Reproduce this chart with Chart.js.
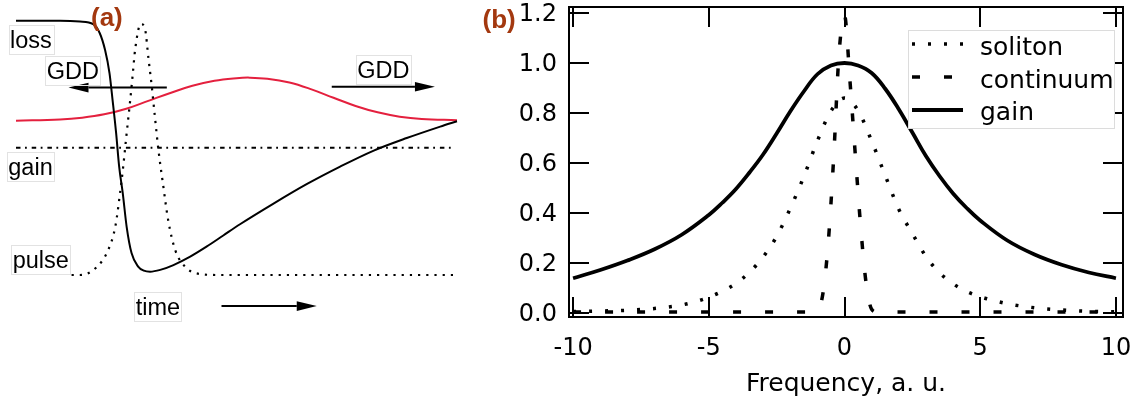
<!DOCTYPE html>
<html>
<head>
<meta charset="utf-8">
<script src="https://cdn.jsdelivr.net/npm/chart.js@4/dist/chart.umd.min.js"></script>
<style>
html,body{margin:0;padding:0;background:#fff;}
#wrap{position:relative;width:1139px;height:401px;overflow:hidden;background:#fff;}
#ca{position:absolute;left:0;top:0;}
#cb{position:absolute;left:470px;top:0;}
</style>
</head>
<body>
<div id="wrap">
<canvas id="ca" width="470" height="401"></canvas>
<canvas id="cb" width="669" height="401"></canvas>
</div>
<script>
// ---------------- Panel (a): schematic, time 0..10, level 0..1 ----------------
const lossTime  = [0, 1.0, 1.45, 1.75, 1.9, 2.02, 2.12, 2.19, 2.27, 2.34, 2.42, 2.51, 2.62, 2.77, 2.9, 3.04, 3.27, 3.57, 3.95, 4.32, 4.70, 5.08, 5.83, 6.59, 7.35, 8.10, 8.86, 9.62, 10];
const lossLevel = [0.997, 0.997, 0.994, 0.984, 0.948, 0.882, 0.792, 0.686, 0.557, 0.424, 0.322, 0.188, 0.086, 0.033, 0.017, 0.013, 0.02, 0.039, 0.072, 0.111, 0.155, 0.199, 0.279, 0.356, 0.425, 0.487, 0.537, 0.582, 0.603];

const pulseTime  = [1.26, 1.45, 1.83, 2.09, 2.25, 2.36, 2.43, 2.51, 2.59, 2.65, 2.70, 2.83, 2.93, 3.0, 3.08, 3.15, 3.23, 3.33, 3.45, 3.61, 3.87, 4.17, 4.63, 9.91];
const pulseLevel = [0, 0, 0.031, 0.098, 0.188, 0.322, 0.424, 0.557, 0.686, 0.792, 0.882, 0.985, 0.961, 0.855, 0.737, 0.62, 0.49, 0.361, 0.216, 0.098, 0.027, 0.004, 0, 0];

const gddTime  = [0, 1, 1.5, 2, 2.5, 3, 3.5, 4, 4.5, 5, 5.3, 5.7, 6.2, 6.7, 7.2, 7.7, 8.2, 8.7, 9.2, 10];
const gddLevel = [0.605, 0.61, 0.617, 0.63, 0.652, 0.683, 0.714, 0.742, 0.762, 0.772, 0.774, 0.77, 0.755, 0.728, 0.695, 0.663, 0.638, 0.621, 0.612, 0.607];

const gainATime  = [0, 9.92];
const gainALevel = [0.499, 0.499];

// arrows: [from time, to time (head), level]
const arrowGddLeft  = [3.42, 1.19, 0.735];
const arrowGddRight = [7.16, 9.50, 0.738];
const arrowTime     = [4.66, 6.82, -0.122];

// text labels of panel (a): [text, time, level]
const labelsA = [
  ['loss', -0.136, 0.889],
  ['GDD', 0.696, 0.767],
  ['GDD', 7.739, 0.771],
  ['gain', -0.175, 0.392],
  ['pulse', -0.075, 0.026],
  ['time', 2.714, -0.157]
];

// ---------------- Panel (b): spectra ----------------
const gainFreq  = [-10, -9, -8, -7, -6, -5, -4.5, -4, -3.5, -3, -2.5, -2, -1.5, -1, -0.5, 0, 0.5, 1, 1.5, 2, 2.5, 3, 3.5, 4, 4.5, 5, 6, 7, 8, 9, 10];
const gainValue = [0.139, 0.172, 0.21, 0.255, 0.313, 0.392, 0.441, 0.496, 0.562, 0.634, 0.718, 0.806, 0.886, 0.955, 0.99, 1.0, 0.99, 0.96, 0.897, 0.815, 0.722, 0.628, 0.548, 0.478, 0.42, 0.37, 0.29, 0.234, 0.193, 0.162, 0.139];

const solitonFreq  = [-10, -9, -8, -7, -6, -5.5, -5, -4.5, -4, -3.5, -3, -2.5, -2, -1.5, -1, -0.5, 0, 0.5, 1, 1.5, 2, 2.5, 3, 3.5, 4, 4.5, 5, 5.5, 6, 7, 8, 9, 10];
const solitonValue = [0.006, 0.008, 0.011, 0.018, 0.032, 0.045, 0.063, 0.087, 0.118, 0.163, 0.224, 0.306, 0.418, 0.545, 0.688, 0.808, 0.86, 0.81, 0.688, 0.55, 0.415, 0.318, 0.226, 0.161, 0.117, 0.086, 0.065, 0.05, 0.037, 0.021, 0.012, 0.007, 0.005];

const continuumFreq  = [-10, -5, -1.2, -1, -0.8, -0.6, -0.4, -0.2, 0, 0.2, 0.4, 0.6, 0.8, 1, 1.2, 5, 10];
const continuumValue = [0.004, 0.004, 0.004, 0.012, 0.075, 0.28, 0.62, 1.04, 1.19, 0.93, 0.63, 0.34, 0.115, 0.015, 0.004, 0.004, 0.004];

const xTickValues = [-10, -5, 0, 5, 10];
const xTickLabels = ['-10', '-5', '0', '5', '10'];
const yTickValues = [0, 0.2, 0.4, 0.6, 0.8, 1.0, 1.2];
const yTickLabels = ['0.0', '0.2', '0.4', '0.6', '0.8', '1.0', '1.2'];
const seriesNames = ['soliton', 'continuum', 'gain'];

const xAxisTitle = 'Frequency, a. u.';
const panelLabels = ['(a)', '(b)'];

// ---------------- helpers ----------------
const pts = (xs, ys) => xs.map((v, i) => ({x: v, y: ys[i]}));
const BROWN = '#a3380f';

function drawArrow(ctx, x0, y0, x1, y1, len, half) {
  const a = Math.atan2(y1 - y0, x1 - x0);
  const c = Math.cos(a), s = Math.sin(a);
  const bx = x1 - c * len, by = y1 - s * len;
  ctx.beginPath(); ctx.moveTo(x0, y0); ctx.lineTo(bx, by); ctx.stroke();
  ctx.beginPath();
  ctx.moveTo(x1, y1);
  ctx.lineTo(bx - s * half, by + c * half);
  ctx.lineTo(bx + s * half, by - c * half);
  ctx.closePath(); ctx.fill();
}

// ---------------- Panel (a) chart ----------------
const overlayA = {
  id: 'overlayA',
  afterDatasetsDraw(chart) {
    const {ctx} = chart;
    const X = chart.scales.x, Y = chart.scales.y;
    ctx.save();
    ctx.setLineDash([]);
    ctx.strokeStyle = '#000'; ctx.fillStyle = '#000'; ctx.lineWidth = 2;
    for (const a of [arrowGddLeft, arrowGddRight, arrowTime]) {
      drawArrow(ctx, X.getPixelForValue(a[0]), Y.getPixelForValue(a[2]),
                     X.getPixelForValue(a[1]), Y.getPixelForValue(a[2]), 20, 4.8);
    }
    ctx.font = '23.5px "Liberation Sans"';
    ctx.textAlign = 'left'; ctx.textBaseline = 'alphabetic';
    for (const [txt, t, l] of labelsA) {
      const px = X.getPixelForValue(t), py = Y.getPixelForValue(l);
      const w = ctx.measureText(txt).width;
      ctx.strokeStyle = '#e2e2e2'; ctx.lineWidth = 1;
      ctx.strokeRect(Math.round(px - 1.5) + 0.5, Math.round(py - 23) + 0.5, Math.round(w + 3), 29);
      ctx.fillStyle = '#000';
      ctx.fillText(txt, px, py);
    }
    ctx.font = 'bold 26px "Liberation Sans"';
    ctx.fillStyle = BROWN;
    ctx.fillText(panelLabels[0], X.getPixelForValue(1.70), Y.getPixelForValue(0.975));
    ctx.restore();
  }
};

new Chart(document.getElementById('ca'), {
  type: 'line',
  data: {
    datasets: [
      {label: 'loss', data: pts(lossTime, lossLevel), borderColor: '#000', borderWidth: 2, pointRadius: 0, cubicInterpolationMode: 'monotone', clip: false},
      {label: 'pulse', data: pts(pulseTime, pulseLevel), borderColor: '#000', borderWidth: 2.2, borderDash: [2.2, 6], pointRadius: 0, cubicInterpolationMode: 'monotone', clip: false},
      {label: 'GDD', data: pts(gddTime, gddLevel), borderColor: '#e4203e', borderWidth: 2, pointRadius: 0, tension: 0.4, clip: false},
      {label: 'gain', data: pts(gainATime, gainALevel), borderColor: '#000', borderWidth: 2.2, borderDash: [4.5, 4.5, 1.8, 4.9], pointRadius: 0, clip: false}
    ]
  },
  options: {
    responsive: false, animation: false, devicePixelRatio: 1, events: [],
    layout: {padding: {left: 16, right: 13, top: 20, bottom: 126}},
    scales: {
      x: {type: 'linear', min: 0, max: 10, display: false},
      y: {type: 'linear', min: 0, max: 1, display: false}
    },
    plugins: {legend: {display: false}, tooltip: {enabled: false}}
  },
  plugins: [overlayA]
});

// ---------------- Panel (b) chart ----------------
const FONT_B = 'DejaVu Sans';
const xMin = -10.15, xMax = 10.26, yMin = -0.016, yMax = 1.224;

const overlayB = {
  id: 'overlayB',
  afterDraw(chart) {
    const {ctx, chartArea} = chart;
    ctx.save();
    const bx = chartArea.right - 215, by = chartArea.top + 23, bw = 206, bh = 98;
    ctx.fillStyle = '#fff';
    ctx.fillRect(bx, by, bw, bh);
    ctx.strokeStyle = '#dcdcdc'; ctx.lineWidth = 1; ctx.setLineDash([]);
    ctx.strokeRect(bx + 0.5, by + 0.5, bw, bh);
    const order = [1, 2, 0]; // soliton, continuum, gain dataset indices
    ctx.font = '25px "' + FONT_B + '"';
    ctx.textAlign = 'left'; ctx.textBaseline = 'alphabetic';
    order.forEach((di, k) => {
      const ds = chart.data.datasets[di];
      const ry = by + 14 + k * 33;
      ctx.strokeStyle = '#000';
      ctx.lineWidth = ds.borderWidth;
      ctx.lineCap = 'butt';
      ctx.setLineDash(ds.borderDash || []);
      ctx.beginPath(); ctx.moveTo(bx + 4, ry); ctx.lineTo(bx + 55, ry); ctx.stroke();
      ctx.setLineDash([]);
      ctx.fillStyle = '#000';
      ctx.fillText(ds.label, bx + 72, by + 25 + k * 32.7);
    });
    ctx.font = 'bold 26px "Liberation Sans"';
    ctx.fillStyle = BROWN;
    ctx.fillText(panelLabels[1], 12.5, 27.5);
    ctx.restore();
  }
};

const tickCfg = (vals) => (s) => { s.ticks = vals.map(v => ({value: v})); };
const gridCfg = {drawOnChartArea: false, drawTicks: true, tickLength: -20, color: '#000', lineWidth: 2};
const borderCfg = {display: true, color: '#000', width: 2};

new Chart(document.getElementById('cb'), {
  type: 'line',
  data: {
    datasets: [
      {label: seriesNames[2], data: pts(gainFreq, gainValue), borderColor: '#000', borderWidth: 3.8, pointRadius: 0, tension: 0.4},
      {label: seriesNames[0], data: pts(solitonFreq, solitonValue), borderColor: '#000', borderWidth: 3.5, borderDash: [3, 13], borderCapStyle: 'butt', pointRadius: 0, cubicInterpolationMode: 'monotone'},
      {label: seriesNames[1], data: pts(continuumFreq, continuumValue), borderColor: '#000', borderWidth: 3.5, borderDash: [8, 24], borderCapStyle: 'butt', pointRadius: 0, cubicInterpolationMode: 'monotone'}
    ]
  },
  options: {
    responsive: false, animation: false, devicePixelRatio: 1, events: [],
    layout: {padding: 0},
    scales: {
      x: {
        type: 'linear', position: 'bottom', min: xMin, max: xMax,
        afterBuildTicks: tickCfg(xTickValues),
        afterFit: (s) => { s.height = 84; s.paddingLeft = 0; s.paddingRight = 0; },
        grid: gridCfg, border: borderCfg,
        ticks: {padding: 37, color: '#000', autoSkip: false, maxRotation: 0,
                font: {family: FONT_B, size: 24},
                callback: (v) => xTickLabels[xTickValues.indexOf(v)]},
        title: {display: true, text: xAxisTitle, color: '#000',
                font: {family: FONT_B, size: 25}, padding: {top: 0, bottom: 2}}
      },
      x2: {
        type: 'linear', position: 'top', min: xMin, max: xMax,
        afterBuildTicks: tickCfg(xTickValues),
        afterFit: (s) => { s.height = 7; s.paddingLeft = 0; s.paddingRight = 0; },
        grid: gridCfg, border: borderCfg, ticks: {display: false}
      },
      y: {
        type: 'linear', position: 'left', min: yMin, max: yMax,
        afterBuildTicks: tickCfg(yTickValues),
        afterFit: (s) => { s.width = 99; s.paddingTop = 0; s.paddingBottom = 0; },
        grid: gridCfg, border: borderCfg,
        ticks: {padding: 32, labelOffset: 2, color: '#000', autoSkip: false,
                font: {family: FONT_B, size: 24},
                callback: (v) => yTickLabels[yTickValues.indexOf(v)]}
      },
      y2: {
        type: 'linear', position: 'right', min: yMin, max: yMax,
        afterBuildTicks: tickCfg(yTickValues),
        afterFit: (s) => { s.width = 16; s.paddingTop = 0; s.paddingBottom = 0; },
        grid: gridCfg, border: borderCfg, ticks: {display: false}
      }
    },
    plugins: {legend: {display: false}, tooltip: {enabled: false}}
  },
  plugins: [overlayB]
});
</script>
</body>
</html>
